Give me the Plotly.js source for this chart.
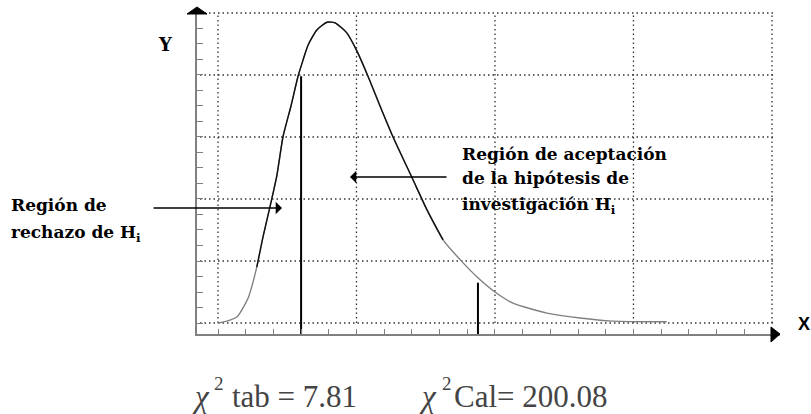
<!DOCTYPE html>
<html>
<head>
<meta charset="utf-8">
<script src="https://cdn.plot.ly/plotly-3.0.1.min.js"></script>
<style>html,body{margin:0;padding:0;background:#fff;}#chart{width:811px;height:414px;}</style>
</head>
<body>
<div id="chart"></div>
<script>
// Chi-square curve (x in grid units, y in grid units)
var curveX = [0, 0.065, 0.137, 0.217, 0.28, 0.325, 0.375, 0.426, 0.469, 0.527, 0.578, 0.614, 0.65, 0.715, 0.787, 0.845, 0.93, 1.0, 1.083, 1.17, 1.264, 1.408, 1.51, 1.625, 1.77, 1.877, 2.0, 2.13, 2.375, 2.614, 2.85, 3.24];
var curveY = [0, 0.03, 0.10, 0.40, 0.90, 1.39, 1.87, 2.39, 3.0, 3.5, 3.98, 4.24, 4.48, 4.73, 4.85, 4.84, 4.68, 4.40, 3.98, 3.5, 3.0, 2.31, 1.82, 1.34, 0.97, 0.73, 0.50, 0.32, 0.16, 0.08, 0.03, 0.02];
// critical value markers
var critX = [0.6, 1.877];
var critTop = [3.98, 0.65];
var critBottom = [-0.19, -0.23];
// text
var leftLabel = ["Región de", "rechazo de H<sub>i</sub>"];
var rightLabel = ["Región de aceptación", "de la hipótesis de", "investigación H<sub>i</sub>"];
var chiSymbol = "χ";
var chiExp = "2";
var bottomLabel = ["tab = 7.81", "Cal= 200.08"];
var axisLabels = ["X", "Y"];

var TIMES = "Times New Roman";

var traces = [];
traces.push({x: curveX, y: curveY, mode: 'lines', line: {color: '#808080', width: 1.4, shape: 'spline', smoothing: 0.6}, hoverinfo: 'skip'});
traces.push({x: curveX.slice(4, 24), y: curveY.slice(4, 24), mode: 'lines', line: {color: '#111', width: 1.4, shape: 'spline', smoothing: 0.6}, hoverinfo: 'skip'});
for (var i = 0; i < critX.length; i++) {
  traces.push({x: [critX[i], critX[i]], y: [critBottom[i], critTop[i]], mode: 'lines', line: {color: '#000', width: 2}, hoverinfo: 'skip'});
}

var shapes = [];
var dotLine = {color: '#333', width: 1.3, dash: '1.5px,3px'};
for (var gx = 0; gx <= 4; gx++) {
  shapes.push({type: 'line', xref: 'x', yref: 'y', x0: gx, x1: gx, y0: 0, y1: 5, line: dotLine, layer: 'below'});
}
for (var gy = 0; gy <= 5; gy++) {
  shapes.push({type: 'line', xref: 'x', yref: 'y', x0: -0.13, x1: 4.02, y0: gy, y1: gy, line: dotLine, layer: 'below'});
}
// axis arrowheads
shapes.push({type: 'path', xref: 'paper', yref: 'paper', path: 'M -0.01715 0.9877 L 0.01715 0.9877 L 0 1.0093 Z', fillcolor: '#000', line: {color: '#000', width: 1}});
shapes.push({type: 'path', xref: 'paper', yref: 'paper', path: 'M 0.98456 0.0216 L 0.98456 -0.0247 L 1.0 0 Z', fillcolor: '#000', line: {color: '#000', width: 1}});

var serifBold = {family: 'DejaVu Serif', size: 17, color: '#000'};
var ann = [];
ann.push({xref: 'paper', yref: 'paper', x: -0.3225, y: 0.398, text: '<b>' + leftLabel[0] + '</b>', showarrow: false, xanchor: 'left', yanchor: 'middle', font: serifBold});
ann.push({xref: 'paper', yref: 'paper', x: -0.3225, y: 0.31, text: '<b>' + leftLabel[1] + '</b>', showarrow: false, xanchor: 'left', yanchor: 'middle', font: serifBold});
var ry = [2.726, 2.339, 1.90];
for (var k = 0; k < rightLabel.length; k++) {
  ann.push({xref: 'x', yref: 'y', x: 1.747, y: ry[k], text: '<b>' + rightLabel[k] + '</b>', showarrow: false, xanchor: 'left', yanchor: 'middle', font: serifBold});
}
// bottom formulas: chi symbol, exponent, text
var chiLeft = [-0.012, 0.3774];
var expLeft = [0.0257, 0.4168];
var txtLeft = [0.0566, 0.4374];
for (var b = 0; b < bottomLabel.length; b++) {
  ann.push({xref: 'paper', yref: 'paper', x: chiLeft[b], y: -0.193, text: chiSymbol, showarrow: false, xanchor: 'left', yanchor: 'middle', font: {family: TIMES, size: 31, style: 'italic'}});
  ann.push({xref: 'paper', yref: 'paper', x: expLeft[b], y: -0.152, text: chiExp, showarrow: false, xanchor: 'left', yanchor: 'middle', font: {family: TIMES, size: 19}});
  ann.push({xref: 'paper', yref: 'paper', x: txtLeft[b], y: -0.193, text: bottomLabel[b], showarrow: false, xanchor: 'left', yanchor: 'middle', font: {family: TIMES, size: 31}});
}
ann.push({xref: 'paper', yref: 'paper', x: 1.0412, y: 0.0309, text: '<b>' + axisLabels[0] + '</b>', showarrow: false, xanchor: 'center', yanchor: 'middle', font: {family: 'Liberation Sans', size: 18, color: '#000'}});
ann.push({xref: 'paper', yref: 'paper', x: -0.0532, y: 0.892, text: '<b>' + axisLabels[1] + '</b>', showarrow: false, xanchor: 'center', yanchor: 'middle', font: {family: 'DejaVu Serif', size: 18, color: '#000'}});
// arrows
ann.push({xref: 'x', yref: 'y', axref: 'x', ayref: 'y', x: 0.462, y: 1.855, ax: -0.4765, ay: 1.855, text: '', showarrow: true, arrowhead: 1, arrowsize: 1.4, arrowwidth: 1.5, arrowcolor: '#000', standoff: 0});
ann.push({xref: 'x', yref: 'y', axref: 'x', ayref: 'y', x: 0.953, y: 2.355, ax: 1.661, ay: 2.355, text: '', showarrow: true, arrowhead: 1, arrowsize: 1.4, arrowwidth: 1.5, arrowcolor: '#000', standoff: 0});

var layout = {
  width: 811, height: 414,
  margin: {l: 197, r: 31, t: 10, b: 80, pad: 0},
  paper_bgcolor: '#fff', plot_bgcolor: '#fff',
  showlegend: false,
  xaxis: {range: [-0.1516, 4.058], showgrid: false, zeroline: false, showline: true, linecolor: '#808080', linewidth: 2,
          ticks: 'inside', ticklen: 5, tickwidth: 1, tickcolor: '#808080', tick0: 0, dtick: 0.2, showticklabels: false, fixedrange: true},
  yaxis: {range: [-0.1774, 5.048], showgrid: false, zeroline: false, showline: true, linecolor: '#808080', linewidth: 2,
          ticks: 'inside', ticklen: 6, tickwidth: 1.2, tickcolor: '#808080', tick0: 0, dtick: 0.25, showticklabels: false, fixedrange: true},
  shapes: shapes,
  annotations: ann
};
Plotly.newPlot('chart', traces, layout, {displayModeBar: false});
</script>
</body>
</html>
